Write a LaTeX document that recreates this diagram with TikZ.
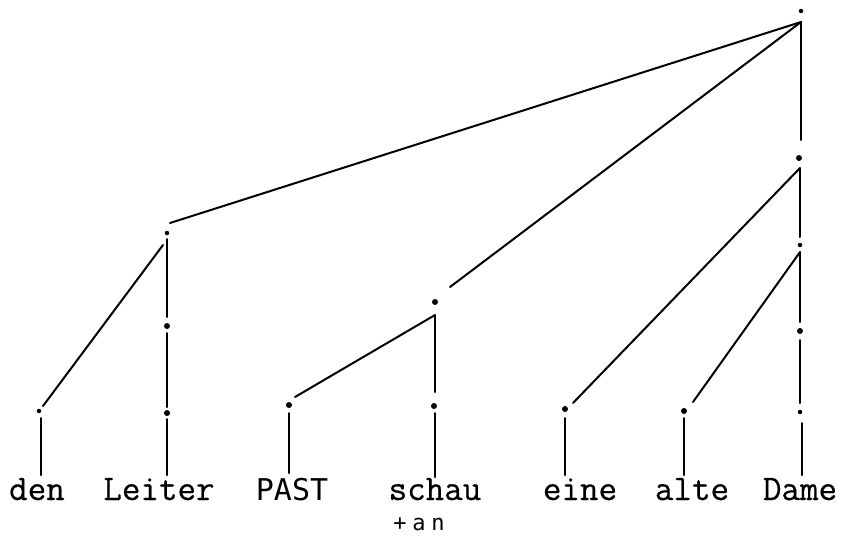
\documentclass[tikz,border=0pt]{standalone}
\usepackage{fontspec}
\newfontfamily\tw{Latin Modern Mono}[FakeBold=0.5]
\newfontfamily\tws{DejaVu Sans Mono}
\begin{document}
\begin{tikzpicture}[x=1pt,y=-1pt,
  br/.style={line width=2pt, line cap=round},
  dotbig/.style={circle, fill=black, inner sep=0pt, minimum size=6pt},
  dotsmall/.style={circle, fill=black, inner sep=0pt, minimum size=4.5pt},
  word/.style={anchor=base, inner sep=0pt, font=\tw\fontsize{36}{36}\selectfont},
  wordsans/.style={anchor=base, inner sep=0pt, font=\tws\fontsize{30}{30}\selectfont},
  wordsmall/.style={anchor=base, inner sep=0pt, font=\tws\fontsize{22}{22}\selectfont}]
\useasboundingbox (0,0) rectangle (845,536);
% dots
\node[dotsmall] (root) at (801,11) {};
\node[dotsmall] (Ln) at (167,233) {};
\node[dotbig] (L2) at (167,326) {};
\node[dotbig] (L3) at (167,413) {};
\node[dotsmall] (dend) at (39,411) {};
\node[dotbig] (VP) at (435,302) {};
\node[dotbig] (pastd) at (289,405) {};
\node[dotbig] (schaud) at (434,406) {};
\node[dotbig] (R1) at (799,158) {};
\node[dotsmall] (R2) at (800,245) {};
\node[dotbig] (R3) at (800,331) {};
\node[dotsmall] (R4) at (800,412) {};
\node[dotbig] (eined) at (565,409) {};
\node[dotbig] (alted) at (684,411) {};
% line end coordinates
\coordinate (r0) at (801,22);
\coordinate (r1) at (801,140);
\coordinate (lt) at (170,223);
\coordinate (vt) at (450,287);
\coordinate (la) at (167,239);
\coordinate (lb) at (167,317);
\coordinate (lc) at (167,333);
\coordinate (ld) at (167,407);
\coordinate (le) at (167,419);
\coordinate (lf) at (167,475);
\coordinate (ldg) at (163,245);
\coordinate (dd) at (43,406);
\coordinate (da) at (41,418);
\coordinate (db) at (41,475);
\coordinate (vc) at (435,315);
\coordinate (pt) at (295,397);
\coordinate (vb) at (435,392);
\coordinate (pa) at (289,413);
\coordinate (pb) at (289,473);
\coordinate (sa) at (435,413);
\coordinate (sb) at (435,477);
\coordinate (c1) at (800,168);
\coordinate (et) at (573,403);
\coordinate (c1b) at (800,237);
\coordinate (c2) at (800,252);
\coordinate (at) at (693,402);
\coordinate (c2b) at (800,322);
\coordinate (c3) at (800,340);
\coordinate (c3b) at (800,403);
\coordinate (ea) at (565,418);
\coordinate (eb) at (565,475);
\coordinate (aa) at (684,418);
\coordinate (ab) at (684,475);
\coordinate (ma) at (802,423);
\coordinate (mb) at (802,475);
% branches
\draw[br] (r0) -- (lt);
\draw[br] (r0) -- (vt);
\draw[br] (r0) -- (r1);
\draw[br] (la) -- (lb);
\draw[br] (lc) -- (ld);
\draw[br] (le) -- (lf);
\draw[br] (ldg) -- (dd);
\draw[br] (da) -- (db);
\draw[br] (vc) -- (pt);
\draw[br] (vc) -- (vb);
\draw[br] (pa) -- (pb);
\draw[br] (sa) -- (sb);
\draw[br] (c1) -- (et);
\draw[br] (c1) -- (c1b);
\draw[br] (c2) -- (at);
\draw[br] (c2) -- (c2b);
\draw[br] (c3) -- (c3b);
\draw[br] (ea) -- (eb);
\draw[br] (aa) -- (ab);
\draw[br] (ma) -- (mb);
% words
\node[word] (den) at (37,500) {den};
\node[word] (leiter) at (159,500) {Leiter};
\node[wordsans] (past) at (292,500) {PAST};
\node[word] (schau) at (435,500) {schau};
\node[wordsmall] (an) at (419,530) {+\kern5.8pt a\kern5.8pt n};
\node[word] (eine) at (580,500) {eine};
\node[word] (alte) at (692,500) {alte};
\node[word] (dame) at (800,500) {Dame};
\end{tikzpicture}
\end{document}
